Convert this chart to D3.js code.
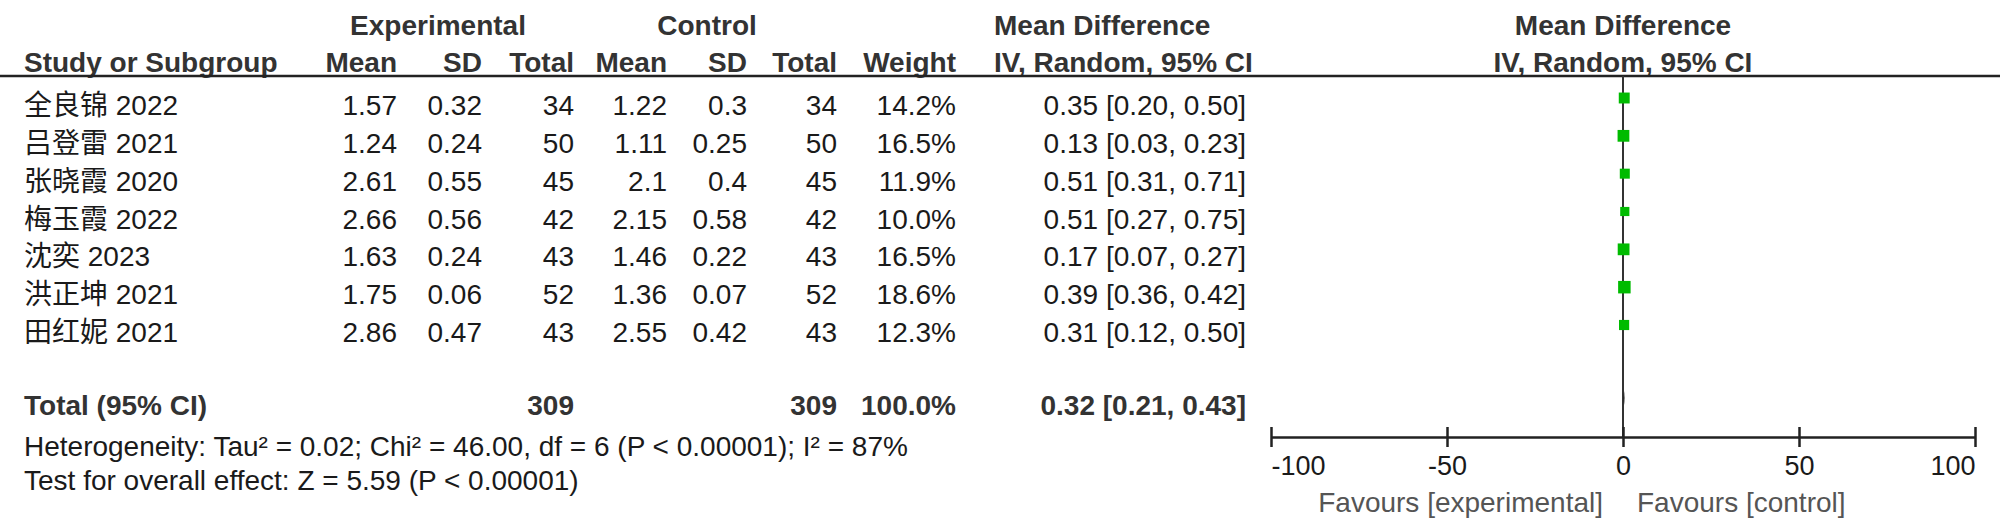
<!DOCTYPE html>
<html lang="zh">
<head>
  <meta charset="UTF-8">
  <title>Forest plot D3.js</title>
  <script src="https://d3js.org/d3.v7.min.js"></script>
  <style>
    body { margin: 0; background: #fff; }
    text { font-family: "Liberation Sans", Arial, "Noto Sans CJK SC", sans-serif; }
  </style>
</head>
<body>

<script>
  // dados
  const studies  = ["全良锦 2022", "吕登雷 2021", "张晓霞 2020", "梅玉霞 2022", "沈奕 2023", "洪正坤 2021", "田红妮 2021"];
  const expMean  = ["1.57", "1.24", "2.61", "2.66", "1.63", "1.75", "2.86"];
  const expSD    = ["0.32", "0.24", "0.55", "0.56", "0.24", "0.06", "0.47"];
  const expN     = [34, 50, 45, 42, 43, 52, 43];
  const ctrlMean = ["1.22", "1.11", "2.1", "2.15", "1.46", "1.36", "2.55"];
  const ctrlSD   = ["0.3", "0.25", "0.4", "0.58", "0.22", "0.07", "0.42"];
  const ctrlN    = [34, 50, 45, 42, 43, 52, 43];
  const weights  = [14.2, 16.5, 11.9, 10.0, 16.5, 18.6, 12.3];
  const md       = [0.35, 0.13, 0.51, 0.51, 0.17, 0.39, 0.31];
  const ciLow    = [0.20, 0.03, 0.31, 0.27, 0.07, 0.36, 0.12];
  const ciHigh   = [0.50, 0.23, 0.71, 0.75, 0.27, 0.42, 0.50];
  const total    = { expN: 309, ctrlN: 309, weight: "100.0%", md: 0.32, lo: 0.21, hi: 0.43 };
  const axisTicks = [-100, -50, 0, 50, 100];
  const heterogeneity = "Heterogeneity: Tau² = 0.02; Chi² = 46.00, df = 6 (P < 0.00001); I² = 87%";
  const overallEffect = "Test for overall effect: Z = 5.59 (P < 0.00001)";

  const width = 2000, height = 532;
  const fs = 28;

  const svg = d3.select("body").append("svg")
    .attr("width", width)
    .attr("height", height);

  // escalas
  const x = d3.scaleLinear().domain([-100, 100]).range([1271, 1975]);
  const y = d3.scaleLinear().domain([0, studies.length - 1]).range([115, 342]);
  const size = d3.scaleSqrt().domain([0, d3.max(weights)]).range([0, 12.5]);

  const yHead1 = 35, yHead2 = 72, yLine = 76, yTotal = 415, yAxis = 437;

  // colunas (borda direita)
  const cols = [
    { x: 397, h: "Mean",   v: expMean },
    { x: 482, h: "SD",     v: expSD },
    { x: 574, h: "Total",  v: expN },
    { x: 667, h: "Mean",   v: ctrlMean },
    { x: 747, h: "SD",     v: ctrlSD },
    { x: 837, h: "Total",  v: ctrlN },
    { x: 956, h: "Weight", v: weights.map(w => w.toFixed(1) + "%") },
    { x: 1246, h: null,    v: md.map((m, i) => `${m.toFixed(2)} [${ciLow[i].toFixed(2)}, ${ciHigh[i].toFixed(2)}]`) }
  ];

  function txt(xp, yp, s, opt = {}) {
    return svg.append("text")
      .attr("x", xp).attr("y", yp)
      .attr("text-anchor", opt.anchor || "start")
      .style("font-size", (opt.size || fs) + "px")
      .style("font-weight", opt.bold ? "bold" : "normal")
      .style("fill", opt.fill || (opt.bold ? "#333" : "#1a1a1a"))
      .text(s);
  }

  // cabeçalho
  txt(438, yHead1, "Experimental", { anchor: "middle", bold: true });
  txt(707, yHead1, "Control", { anchor: "middle", bold: true });
  txt(994, yHead1, "Mean Difference", { bold: true });
  txt(x(0), yHead1, "Mean Difference", { anchor: "middle", bold: true });

  txt(24, yHead2, "Study or Subgroup", { bold: true });
  cols.forEach(c => { if (c.h) txt(c.x, yHead2, c.h, { anchor: "end", bold: true }); });
  txt(994, yHead2, "IV, Random, 95% CI", { bold: true });
  txt(x(0), yHead2, "IV, Random, 95% CI", { anchor: "middle", bold: true });

  svg.append("line")
    .attr("x1", 0).attr("x2", width)
    .attr("y1", yLine).attr("y2", yLine)
    .style("stroke", "#222").style("stroke-width", 2.5);

  // linhas dos estudos
  studies.forEach((s, i) => {
    txt(24, y(i), s);
    cols.forEach(c => txt(c.x, y(i), c.v[i], { anchor: "end" }));
  });

  // total
  txt(24, yTotal, "Total (95% CI)", { bold: true });
  txt(574, yTotal, total.expN, { anchor: "end", bold: true });
  txt(837, yTotal, total.ctrlN, { anchor: "end", bold: true });
  txt(956, yTotal, total.weight, { anchor: "end", bold: true });
  txt(1246, yTotal, `${total.md.toFixed(2)} [${total.lo.toFixed(2)}, ${total.hi.toFixed(2)}]`, { anchor: "end", bold: true });

  txt(24, 456, heterogeneity);
  txt(24, 490, overallEffect);

  // linha vertical de efeito nulo
  svg.append("line")
    .attr("x1", x(0)).attr("x2", x(0))
    .attr("y1", yLine).attr("y2", yAxis)
    .style("stroke", "#333").style("stroke-width", 2);

  // intervalos de confiança
  svg.selectAll("line.ci")
    .data(md)
    .enter()
    .append("line")
    .attr("class", "ci")
    .attr("x1", (d, i) => x(ciLow[i]))
    .attr("x2", (d, i) => x(ciHigh[i]))
    .attr("y1", (d, i) => y(i) - 17)
    .attr("y2", (d, i) => y(i) - 17)
    .style("stroke", "#000").style("stroke-width", 1.5);

  // quadrados
  svg.selectAll("rect.sq")
    .data(md)
    .enter()
    .append("rect")
    .attr("class", "sq")
    .attr("x", (d, i) => x(d) - size(weights[i]) / 2)
    .attr("y", (d, i) => y(i) - 17 - size(weights[i]) / 2)
    .attr("width", (d, i) => size(weights[i]))
    .attr("height", (d, i) => size(weights[i]))
    .style("fill", "#00bb00");

  // diamante do total (muito estreito nesta escala)
  const dy = yTotal - 17;
  svg.append("path")
    .attr("d", `M${x(total.lo)},${dy} L${x(total.md)},${dy - 7} L${x(total.hi)},${dy} L${x(total.md)},${dy + 7} Z`)
    .style("fill", "#000");

  // eixo
  const axis = svg.append("g")
    .attr("transform", `translate(0, ${yAxis})`)
    .call(d3.axisBottom(x).tickValues(axisTicks).tickFormat(d => String(d))
      .tickSize(10).tickSizeOuter(0).tickPadding(12));

  axis.select(".domain").style("stroke", "#222").style("stroke-width", 2.5);
  axis.selectAll(".tick line").attr("y1", -10).attr("y2", 10)
    .style("stroke", "#222").style("stroke-width", 2.5);
  axis.selectAll(".tick text")
    .attr("y", 38).attr("dy", 0)
    .style("font-size", "27px")
    .style("font-family", "'Liberation Sans', Arial, sans-serif")
    .style("fill", "#1a1a1a")
    .attr("text-anchor", d => d === axisTicks[0] ? "start" : d === axisTicks[axisTicks.length - 1] ? "end" : "middle");

  txt(x(0) - 20, 512, "Favours [experimental]", { anchor: "end", fill: "#555" });
  txt(x(0) + 14, 512, "Favours [control]", { fill: "#555" });
</script>

</body>
</html>
